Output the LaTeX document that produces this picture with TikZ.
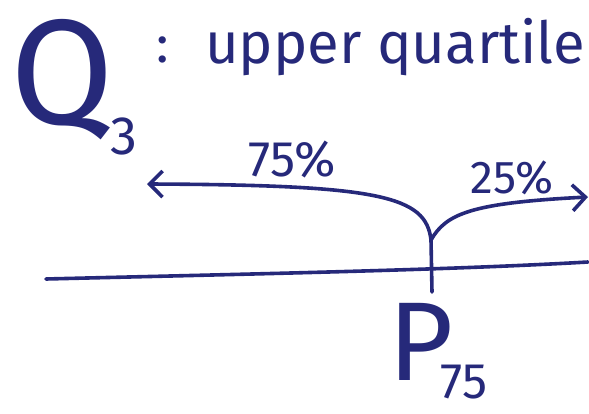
\documentclass[tikz,border=0pt]{standalone}
\usepackage{fontspec}
\setmainfont{Fira Sans}
\usetikzlibrary{arrows.meta}
\definecolor{ink}{HTML}{26297A}

\begin{document}
\begin{tikzpicture}[x=1pt, y=-1pt,
        pen/.style={draw=ink, line width=3.6pt, line cap=round, line join=round},
        arr/.style={pen, -{Straight Barb[length=13pt, width=26pt, line width=3.6pt]}},
        hand/.style={text=ink, inner sep=0pt}
    ]
    \useasboundingbox (0,0) rectangle (589,414);

    % ---- heading: Q_3 : upper quartile ----
    \node[hand, font=\fontsize{150}{150}\selectfont] (q) at (62,80) {Q};
    \node[hand, font=\fontsize{54}{54}\selectfont] (three) at (124,136) {3};
    \node[hand, font=\fontsize{52}{52}\selectfont] (colon) at (163,50) {:};
    \node[hand, anchor=base west, font=\fontsize{58}{58}\selectfont] (title) at (205,64) {upper quartile};

    % ---- fork of the two arrows ----
    \coordinate (fork) at (431,240);
    \coordinate (lend) at (147,184);
    \coordinate (rend) at (588,197);
    \coordinate (stem) at (432,292);

    \draw[arr] (fork) .. controls (426,196) and (380,185) .. (lend);
    \draw[arr] (fork) .. controls (446,214) and (470,203) .. (rend);
    \draw[pen] (fork) -- (stem);

    \node[hand, font=\fontsize{50}{50}\selectfont] (lower) at (292,160) {75\%};
    \node[hand, font=\fontsize{46}{46}\selectfont] (upper) at (512,178) {25\%};

    % ---- number line ----
    \coordinate (lineL) at (46,279);
    \coordinate (lineR) at (588,262);
    \draw[pen] (lineL) .. controls (250,274) and (450,270) .. (lineR);

    % ---- P_75 ----
    \node[hand, font=\fontsize{112}{112}\selectfont] (p) at (421,342) {P};
    \node[hand, font=\fontsize{50}{50}\selectfont] (sub) at (464,382) {75};
\end{tikzpicture}
\end{document}
